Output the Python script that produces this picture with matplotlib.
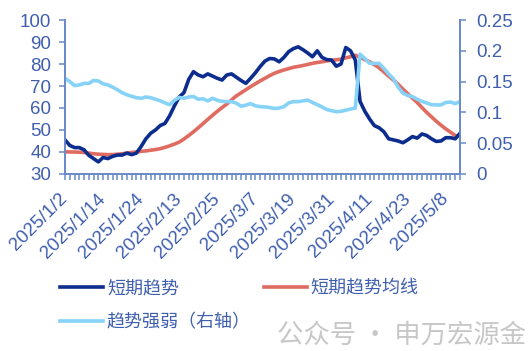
import matplotlib
matplotlib.use('Agg')
import matplotlib.pyplot as plt
from matplotlib.ticker import FormatStrFormatter

# 短期趋势 (left axis)
short_trend = [45.5, 43, 42, 42, 41, 38.5, 37, 35.5, 37.5, 37,
               38, 38.6, 38.6, 39.5, 38.8, 39.5, 42.5, 46, 48.5, 50,
               52, 53, 56.5, 61, 65, 67, 73, 76.5, 75, 74.2,
               75.5, 74.5, 73.5, 72.7, 75, 75.5, 74, 72.5, 71.2, 73.5,
               76, 78.8, 81.3, 82.5, 82.3, 81, 83, 85.6, 87, 87.8,
               86.5, 85, 83.3, 86, 83, 82, 81.8, 79, 80, 87.5,
               86, 81.8, 63, 58.5, 55, 52, 51, 49.2, 46, 45.5,
               45, 44.2, 45.5, 47, 46.3, 48.2, 47.5, 46, 44.8, 45,
               46.5, 46.5, 46, 48.5]

# 短期趋势均线 (left axis)
short_ma = [40.1, 40.0, 40.0, 39.9, 39.8, 39.5, 39.2, 39.0, 38.9, 38.8,
            38.8, 39.0, 39.2, 39.5, 39.8, 40.0, 40.3, 40.5, 40.8, 41.1,
            41.5, 42.1, 42.8, 43.6, 44.5, 45.9, 47.5, 49.2, 51.0, 52.9,
            54.8, 56.7, 58.5, 60.2, 61.8, 63.7, 65.5, 66.9, 68.3, 69.7,
            71.0, 72.3, 73.5, 74.7, 75.8, 76.6, 77.3, 77.9, 78.5, 78.9,
            79.3, 79.8, 80.3, 80.7, 81.0, 81.4, 81.7, 81.9, 82.2, 82.8,
            83.3, 84.0, 83.0, 82.0, 81.0, 79.7, 78.3, 76.4, 74.5, 72.7,
            70.8, 68.6, 66.5, 64.5, 62.5, 60.2, 58.0, 56.0, 54.0, 52.2,
            50.5, 49.0, 47.5, 47.0]

# 趋势强弱 (right axis)
strength = [0.1554, 0.15, 0.1436, 0.1446, 0.1471, 0.1471, 0.1518, 0.1511, 0.1464, 0.1446,
            0.1411, 0.1368, 0.1321, 0.1286, 0.1261, 0.1239, 0.1229, 0.125, 0.1239, 0.1214,
            0.1189, 0.1154, 0.1125, 0.1196, 0.1243, 0.1229, 0.125, 0.1257, 0.1214, 0.1221,
            0.1186, 0.1229, 0.1196, 0.1179, 0.1175, 0.1175, 0.115, 0.11, 0.1118, 0.1143,
            0.1107, 0.1093, 0.1089, 0.1079, 0.1064, 0.1071, 0.1093, 0.1154, 0.1175, 0.1175,
            0.1186, 0.12, 0.1161, 0.1125, 0.1089, 0.1046, 0.1029, 0.1011, 0.1018, 0.1036,
            0.1054, 0.1071, 0.1946, 0.1875, 0.1796, 0.1796, 0.1796, 0.1714, 0.1625, 0.1546,
            0.1411, 0.1314, 0.1275, 0.1257, 0.1214, 0.1179, 0.1154, 0.1125, 0.1121, 0.1121,
            0.1161, 0.1168, 0.1143, 0.1175]

tick_labels = ['2025/1/2', '2025/1/14', '2025/1/24', '2025/2/13', '2025/2/25', '2025/3/7',
               '2025/3/19', '2025/3/31', '2025/4/11', '2025/4/23', '2025/5/8']

axis_col = '#6a8bc8'
text_col = '#3f5fae'
cjk = ['Noto Sans CJK SC', 'DejaVu Sans']

fig = plt.figure(figsize=(5.31, 3.51), dpi=100)
ax = fig.add_axes([0.1224, 0.5043, 0.7439, 0.4387])
ax2 = ax.twinx()

x = list(range(len(short_trend)))
l1, = ax.plot(x, short_trend, color='#0c2d8e', lw=2.6, zorder=3)
l2, = ax.plot(x, short_ma, color='#e06b60', lw=2.6, zorder=2)
l3, = ax2.plot(x, strength, color='#86d3f7', lw=2.6, zorder=1)

ax.set_xlim(0, len(x) - 1)
ax.set_ylim(30, 100)
ax2.set_ylim(0, 0.25)
ax.set_yticks(range(30, 101, 10))
ax2.set_yticks([0, 0.05, 0.1, 0.15, 0.2, 0.25])
ax2.yaxis.set_major_formatter(FormatStrFormatter('%g'))

ax.set_xticks(x)
labels = [''] * len(x)
for k, lab in enumerate(tick_labels):
    labels[k * 8] = lab
ax.set_xticklabels(labels, rotation=45, ha='right', va='center', rotation_mode='anchor',
                   family='Liberation Sans', fontsize=13.5, color=text_col)

for a in (ax, ax2):
    for s in a.spines.values():
        s.set_color(axis_col)
        s.set_linewidth(1.3)
    a.spines['top'].set_visible(False)
    a.tick_params(colors=axis_col, width=1.1, length=4, labelcolor=text_col, labelsize=13.5)
for t in ax.get_yticklabels() + ax2.get_yticklabels():
    t.set_family('Liberation Sans')
ax.tick_params(axis='x', length=4, pad=12)
ax.tick_params(axis='y', pad=6)
ax2.tick_params(axis='y', pad=8)

leg = fig.legend([l1, l3, l2], ['短期趋势', '趋势强弱（右轴）', '短期趋势均线'],
                 ncol=2, loc='upper left', bbox_to_anchor=(0.113, 0.205),
                 frameon=False, borderpad=0, borderaxespad=0,
                 handlelength=2.4, handletextpad=0.2, columnspacing=0.7,
                 labelspacing=0.9, prop={'family': cjk, 'size': 13})
for t in leg.get_texts():
    t.set_color(text_col)

# watermark
fig.text(0.99, 0.005, '公众号 · 申万宏源金', family=cjk, fontsize=19,
         color='#9a9a9a', alpha=0.55, va='bottom', ha='right')

fig.savefig('out.png', dpi=100)
